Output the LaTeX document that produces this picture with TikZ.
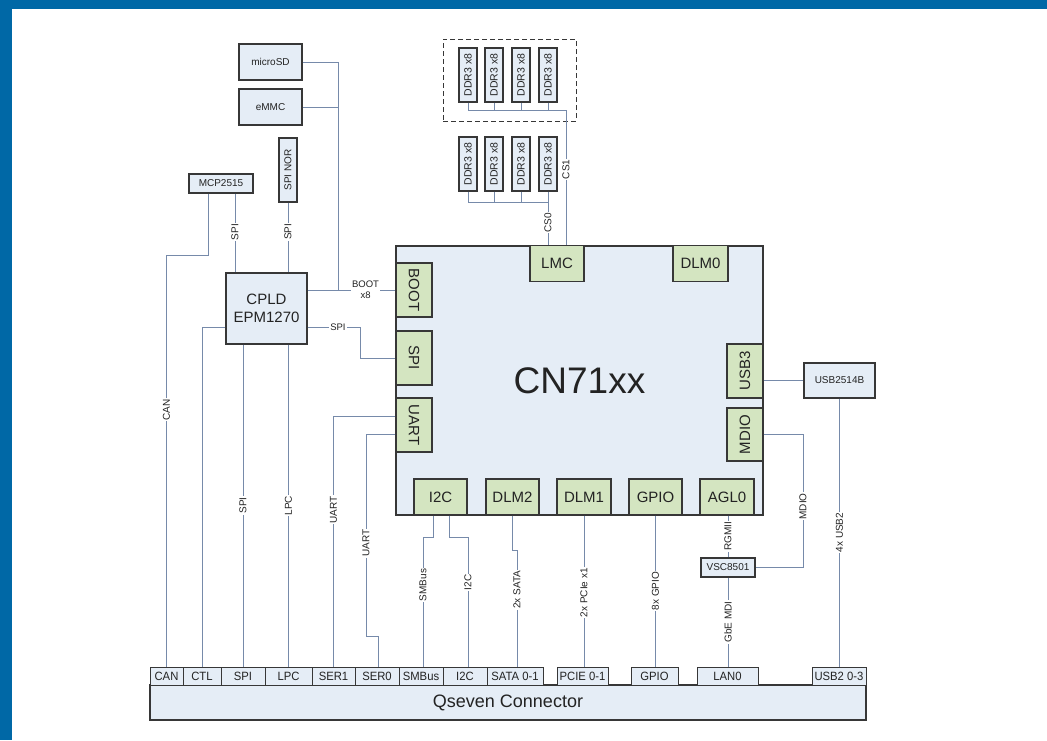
\documentclass[tikz,border=0pt]{standalone}
\usepackage{fontspec}
\setmainfont{Liberation Sans}
\newfontfamily\narrowfont[FakeStretch=0.94]{Liberation Sans}
\usepackage{graphicx}
\definecolor{frameblue}{RGB}{0,104,166}
\definecolor{boxfill}{RGB}{229,237,246}
\definecolor{gfill}{RGB}{212,229,193}
\definecolor{boxline}{RGB}{55,55,55}
\definecolor{connc}{RGB}{118,138,170}
\definecolor{txt}{RGB}{35,35,35}
\begin{document}
\begin{tikzpicture}[x=1pt,y=-1pt,
  blkbox/.style={draw=boxline, fill=boxfill, line width=1.1pt, inner sep=0pt, text=txt, font=\fontsize{10}{12}\selectfont},
  ddrbox/.style={blkbox, minimum width=18, minimum height=54, font=\fontsize{10.5}{12}\selectfont},
  gbox/.style={draw=boxline, fill=gfill, line width=1.1pt, inner sep=0pt, text=txt, font=\fontsize{15}{17}\selectfont},
  hgbox/.style={gbox, minimum width=54, minimum height=36},
  vgbox/.style={gbox, minimum width=36, minimum height=54},
  qpin/.style={draw=boxline, fill=boxfill, line width=1pt, inner sep=0pt, minimum height=18, text=txt, font=\narrowfont\fontsize{12}{13}\selectfont},
  conn/.style={draw=connc, line width=0.9pt},
  vlbl/.style={rotate=90, fill=white, inner sep=1pt, text=txt, font=\fontsize{10}{10}\selectfont},
  hlbl/.style={fill=white, inner sep=1pt, text=txt, font=\fontsize{9.5}{11}\selectfont},
]
\useasboundingbox (0,0) rectangle (1047,740);
% frame
\fill[frameblue] (0,0) rectangle (1047,9);
\fill[frameblue] (0,0) rectangle (12,740);

% left-top boxes
\node[blkbox, minimum width=63, minimum height=36] (microsd) at (270.5,62) {microSD};
\node[blkbox, minimum width=63, minimum height=36] (emmc) at (270.5,107) {eMMC};
\node[blkbox, minimum width=18, minimum height=64] (spinor) at (288,170) {\rotatebox{90}{SPI NOR}};
\node[blkbox, minimum width=64, minimum height=19] (mcp) at (221,183.5) {MCP2515};
\node[blkbox, minimum width=81, minimum height=71, align=center, font=\fontsize{15}{18}\selectfont] (cpld) at (266.5,308.5) {CPLD\\EPM1270};

% DDR3
\node[draw=boxline, dashed, dash pattern=on 5pt off 3pt, line width=0.9pt, minimum width=133, minimum height=82, inner sep=0pt] (ddrgrp) at (509.5,80) {};
\foreach \i/\x in {1/468,2/494,3/521,4/548}{
  \node[ddrbox] (ddrt\i) at (\x,75) {\rotatebox{90}{DDR3 x8}};
  \node[ddrbox] (ddrb\i) at (\x,164) {\rotatebox{90}{DDR3 x8}};
}

% main chip
\node[draw=boxline, fill=boxfill, line width=1.2pt, minimum width=367, minimum height=269, inner sep=0pt, text=txt, font=\fontsize{37}{40}\selectfont] (cn) at (579.5,380.5) {CN71xx};
\node[hgbox] (lmc) at (557,263.5) {LMC};
\node[hgbox, minimum width=55] (dlm0) at (700.5,263.5) {DLM0};
\node[vgbox] (boot) at (414,290) {\rotatebox{-90}{BOOT}};
\node[vgbox] (spi) at (414,358) {\rotatebox{-90}{SPI}};
\node[vgbox] (uart) at (414,425) {\rotatebox{-90}{UART}};
\node[vgbox] (usb3) at (745,371) {\rotatebox{90}{USB3}};
\node[vgbox, minimum height=53] (mdio) at (745,434.5) {\rotatebox{90}{MDIO}};
\node[hgbox, minimum width=53] (i2c) at (440.5,497) {I2C};
\node[hgbox, minimum width=53] (dlm2) at (512.5,497) {DLM2};
\node[hgbox] (dlm1) at (584,497) {DLM1};
\node[hgbox, minimum width=53] (gpio) at (655.5,497) {GPIO};
\node[hgbox] (agl0) at (727,497) {AGL0};

% right boxes
\node[blkbox, minimum width=71, minimum height=35] (usbhub) at (839.5,380.5) {USB2514B};
\node[blkbox, minimum width=54, minimum height=19] (vsc) at (728,567.5) {VSC8501};

% Qseven connector
\node[draw=boxline, fill=boxfill, line width=1.1pt, minimum width=716, minimum height=35, inner sep=0pt, text=txt, font=\fontsize{18}{20}\selectfont] (qseven) at (508,702.5) {Qseven Connector};
\node[qpin, minimum width=33] (qcan) at (166.5,676) {CAN};
\node[qpin, minimum width=38] (qctl) at (202,676) {CTL};
\node[qpin, minimum width=44] (qspi) at (243,676) {SPI};
\node[qpin, minimum width=47] (qlpc) at (288.5,676) {LPC};
\node[qpin, minimum width=43] (qser1) at (333.5,676) {SER1};
\node[qpin, minimum width=44] (qser0) at (377,676) {SER0};
\node[qpin, minimum width=44] (qsmb) at (421,676) {SMBus};
\node[qpin, minimum width=44] (qi2c) at (465,676) {I2C};
\node[qpin, minimum width=56] (qsata) at (515,676) {SATA 0-1};
\node[qpin, minimum width=51] (qpcie) at (582.5,676) {PCIE 0-1};
\node[qpin, minimum width=47] (qgpio) at (654.5,676) {GPIO};
\node[qpin, minimum width=61] (qlan) at (727.5,676) {LAN0};
\node[qpin, minimum width=54] (qusb) at (839,676) {USB2 0-3};

% ---- connectors ----
\coordinate (bootbus) at (338,0);
\draw[conn] (microsd.east) -- (microsd.east -| bootbus) -- (boot.west -| bootbus);
\draw[conn] (emmc.east) -- (emmc.east -| bootbus);
\draw[conn] (cpld.east |- boot.west) -- node[hlbl, pos=0.66, align=center]{BOOT\\x8} (boot.west);

\draw[conn] (spinor.south) -- node[vlbl, pos=0.42]{SPI} (spinor.south |- cpld.north);
\draw[conn] ([xshift=14]mcp.south) -- node[vlbl, pos=0.49]{SPI} ([xshift=14]mcp.south |- cpld.north);
\draw[conn] ([xshift=-13]mcp.south) |- (qcan.north |- 0,255) -- node[vlbl, pos=0.376]{CAN} (qcan.north);
\draw[conn] (cpld.west |- 0,327) -| (qctl.north);
\draw[conn] (cpld.south -| qspi.north) -- node[vlbl, pos=0.5]{SPI} (qspi.north);
\draw[conn] (cpld.south -| qlpc.north) -- node[vlbl, pos=0.5]{LPC} (qlpc.north);
\draw[conn] (cpld.east |- 0,327) -- node[hlbl, pos=0.58]{SPI} (360,327) |- (spi.west);

\draw[conn] (uart.west |- 0,416) -- (qser1.north |- 0,416) -- node[vlbl, pos=0.375]{UART} (qser1.north);
\draw[conn] (uart.west |- 0,434) -- (366,434) -- node[vlbl, pos=0.54]{UART} (366,636) -| ([xshift=1]qser0.north);

\draw[conn] ([xshift=-7.5]i2c.south) |- ([xshift=2]qsmb.north |- 0,537) -- node[vlbl, pos=0.37]{SMBus} ([xshift=2]qsmb.north);
\draw[conn] ([xshift=8.5]i2c.south) |- ([xshift=3]qi2c.north |- 0,537) -- node[vlbl, pos=0.35]{I2C} ([xshift=3]qi2c.north);
\draw[conn] (dlm2.south) |- ([xshift=2]qsata.north |- 0,550) -- node[vlbl, pos=0.34]{2x SATA} ([xshift=2]qsata.north);
\draw[conn] (dlm1.south) -- node[vlbl, pos=0.51]{2x PCIe x1} (dlm1.south |- qpcie.north);
\draw[conn] (gpio.south) -- node[vlbl, pos=0.5]{8x GPIO} (gpio.south |- qgpio.north);
\draw[conn] ([xshift=1]agl0.south) -- node[vlbl, pos=0.5]{RGMII} ([xshift=1]agl0.south |- vsc.north);
\draw[conn] (vsc.south) -- node[vlbl, pos=0.5]{GbE MDI} (vsc.south |- qlan.north);

\coordinate (mdiobus) at (803,0);
\draw[conn] (mdio.east) -- (mdio.east -| mdiobus) -- node[vlbl, pos=0.54]{MDIO} (vsc.east -| mdiobus) -- (vsc.east);
\draw[conn] (usb3.east |- usbhub.west) -- (usbhub.west);
\draw[conn] (usbhub.south) -- node[vlbl, pos=0.5]{4x USB2} (usbhub.south |- qusb.north);

% DDR buses
\foreach \i in {1,2,3,4}{
  \draw[conn] (ddrt\i.south) -- (ddrt\i.south |- 0,110);
  \draw[conn] (ddrb\i.south) -- (ddrb\i.south |- 0,202);
}
\coordinate (cs1) at (566,0);
\draw[conn] (ddrt1.south |- 0,110) -- (cs1 |- 0,110) -- node[vlbl, pos=0.44]{CS1} (cs1 |- lmc.north);
\draw[conn] (ddrb1.south |- 0,202) -- (ddrb4.south |- 0,202);
\draw[conn] (ddrb4.south |- 0,202) -- node[vlbl, pos=0.48]{CS0} (ddrb4.south |- lmc.north);
\end{tikzpicture}
\end{document}
